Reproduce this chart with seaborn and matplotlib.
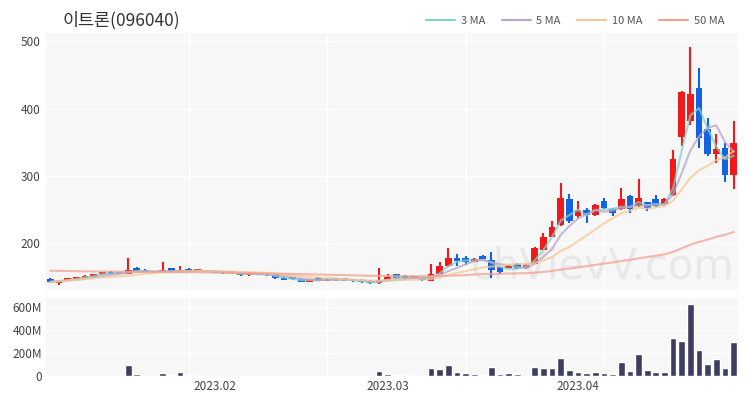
import numpy as np
import pandas as pd
import matplotlib
matplotlib.use("Agg")
import matplotlib.pyplot as plt
from matplotlib.ticker import FuncFormatter
from matplotlib.lines import Line2D
import seaborn as sns

sns.set_theme(style="white")
plt.rcParams['font.family'] = ['Noto Sans CJK KR', 'DejaVu Sans']

title = "이트론(096040)"

# KRX trading days, Jan 3 - Apr 27 2023
holidays = pd.to_datetime(["2023-01-23", "2023-01-24", "2023-03-01"])
dates = pd.bdate_range("2023-01-03", "2023-04-27")
dates = dates[~dates.isin(holidays)]

# prices (won)
opens = [148, 141, 146, 147, 149, 151, 154, 158, 155, 155,
         164, 161, 158, 157, 163, 158, 162, 159, 160, 158,
         157, 156, 156, 153, 155, 154, 154, 149, 148, 148,
         143.5, 149, 145, 147, 146.5, 146, 146, 145, 141, 146,
         154, 152, 149, 148, 145, 155, 166, 179, 179, 173,
         182, 176, 165, 164, 170, 163, 170, 191, 210, 228,
         266, 240, 249, 242, 263, 251, 251, 270, 255, 261,
         266, 258, 272, 358, 382, 431, 369, 333, 342, 301]
highs = [149, 146, 148, 150, 153, 155, 158, 159, 158, 178,
         165, 162, 159, 173, 164, 167, 163, 161, 161, 159,
         158, 157, 157, 157, 156, 155, 155, 150, 149, 149,
         148, 150, 149, 148, 147, 147, 147, 146, 164, 155,
         155, 153, 151, 149, 170, 173, 193, 184, 182, 179,
         183, 188, 167, 168, 171, 169, 195, 215, 233, 290,
         273, 263, 252, 259, 267, 252, 282, 272, 295, 262,
         272, 267, 339, 426, 491, 460, 386, 363, 349, 382]
lows = [141, 138, 145, 146, 148, 150, 153, 154, 154, 154,
        158, 157, 156, 156, 158, 157, 158, 158, 157, 156,
        155, 155, 152, 152, 153, 152, 148, 146, 146, 143,
        143, 144, 144, 145, 145, 143, 142, 140, 140, 145,
        148, 148, 148, 145, 144, 154, 165, 166, 168, 172,
        175, 149, 155, 163, 162, 162, 169, 190, 209, 226,
        230, 238, 230, 240, 251, 240, 250, 245, 254, 248,
        254, 257, 270, 345, 375, 342, 330, 319, 291, 281]
closes = [143, 145, 148, 149, 152, 154, 157, 155, 157, 161,
          159, 158, 157, 160, 159, 160, 159, 160, 158, 157,
          156, 156.5, 153, 156, 154, 153, 149, 146.5, 147, 143.5,
          147, 145, 148, 146, 146, 144, 142.5, 141, 146, 151,
          149, 148.5, 150, 145.5, 155, 166, 178, 174, 173, 177,
          177, 161, 158, 167, 163, 168, 193, 210, 225, 267,
          234, 249, 242, 257, 252, 245, 266, 251, 267, 252,
          255, 266, 325, 424, 421, 357, 333, 340, 301, 349]
# volume in millions of shares
volumes = [4, 3, 3, 4, 3, 4, 3, 3, 4, 97,
           18, 4, 3, 30, 5, 38, 5, 3, 3, 3,
           2, 3, 3, 4, 3, 2, 3, 3, 2, 3,
           3, 2, 3, 2, 2, 3, 3, 4, 44, 20,
           6, 5, 4, 5, 68, 59, 94, 38, 24, 15,
           9, 79, 20, 27, 15, 12, 79, 67, 74, 161,
           53, 38, 27, 32, 27, 20, 126, 44, 191, 50,
           35, 38, 329, 302, 632, 229, 108, 147, 73, 293]
# 50 MA before a full 50-day window is visible
ma50_head = [159.5, 159.3, 159.1, 158.9, 158.7, 158.5, 158.4, 158.3, 158.2, 158.1,
             158.0, 157.9, 157.8, 157.7, 157.6, 157.5, 157.4, 157.2, 157.0, 156.8,
             156.6, 156.4, 156.2, 156.0, 155.8, 155.6, 155.4, 155.1, 154.8, 154.5,
             154.2, 153.9, 153.6, 153.3, 153.0, 152.7, 152.4, 152.1, 151.9, 151.8,
             151.7, 151.6, 151.5, 151.5, 151.6, 151.8, 152.2, 152.6, 153.0]

df = pd.DataFrame({"date": dates, "open": opens, "high": highs, "low": lows,
                   "close": closes, "volume": np.array(volumes) * 1e6})
df["idx"] = np.arange(len(df))
for n in (3, 5, 10):
    df[f"ma{n}"] = df.close.rolling(n, min_periods=1).mean()
df["ma50"] = df.close.rolling(50).mean()
df.loc[:len(ma50_head) - 1, "ma50"] = ma50_head

up = df.close >= df.open
cols = np.where(up, "#f01a1a", "#1463e0")

fig = plt.figure(figsize=(7.5, 4), dpi=100)
ax = fig.add_axes([46 / 750, 110 / 400, 692 / 750, 257 / 400])
axv = fig.add_axes([46 / 750, 24 / 400, 692 / 750, 78 / 400])

for a in (ax, axv):
    a.set_facecolor("#f7f7f7")
    for s in a.spines.values():
        s.set_visible(False)

# watermark
ax.text(0.995, 0.01, "chVievV.com", transform=ax.transAxes, ha="right", va="bottom",
        fontsize=30, color="#dcdcdc", alpha=0.55, zorder=1, family="DejaVu Sans")

# candles
ax.vlines(df.idx, df.low, df.high, colors=cols, lw=1.5, zorder=2)
body = (df.close - df.open).abs().clip(lower=2.6)
ax.bar(df.idx, body, bottom=df[["open", "close"]].min(axis=1), width=0.78,
       color=cols, lw=0, zorder=2)

ma_cols = {"ma3": "#7fd3c9", "ma5": "#b9a5c6", "ma10": "#f5c892", "ma50": "#f4a08e"}
handles = []
for key, c in ma_cols.items():
    sns.lineplot(x=df.idx, y=df[key], ax=ax, color=c, lw=1.5, zorder=3, alpha=0.75)
    handles.append(Line2D([], [], color=c, lw=1.5))
labels = ["3 MA", "5 MA", "10 MA", "50 MA"]

ax.set_xlim(-0.5, len(df) - 0.5)
ax.set_ylim(131, 512)
ax.set_yticks([200, 300, 400, 500])
ax.set_xticks([16, 32, 48, 64])
ax.set_xticklabels([])
ax.set_xlabel("")
ax.set_ylabel("")
ax.grid(True, color="white", lw=1)
ax.set_axisbelow(True)
ax.tick_params(length=0, labelsize=8.5, colors="#444", pad=4)

# volume
sns.barplot(x=df.idx, y=df.volume, ax=axv, color="#3e3e62", width=0.78,
            saturation=1, zorder=2)
axv.set_xlim(-0.5, len(df) - 0.5)
axv.set_ylim(0, 680e6)
axv.set_yticks([0, 200e6, 400e6, 600e6])
axv.yaxis.set_major_formatter(FuncFormatter(lambda v, p: "0" if v == 0 else f"{int(v / 1e6)}M"))
month_first = df.groupby(df.date.dt.month).idx.first()
month_first = month_first[month_first > 0]
axv.set_xticks(month_first.values)
axv.set_xticklabels([d.strftime("%Y.%m") for d in df.date[month_first.values]])
axv.set_xticks([16, 32, 48, 64], minor=True)
axv.set_xlabel("")
axv.set_ylabel("")
axv.grid(True, axis="y", color="white", lw=1)
axv.grid(True, axis="x", which="minor", color="white", lw=1)
axv.set_axisbelow(True)
axv.tick_params(which="both", length=0, labelsize=8.5, colors="#444", pad=3)

fig.text(63 / 750, 1 - 20 / 400, title, fontsize=12.5, va="center", color="#333")
fig.legend(handles, labels, loc="center right", bbox_to_anchor=(734 / 750, 1 - 21 / 400),
           ncol=4, frameon=False, fontsize=8, handlelength=2.6, columnspacing=1.5,
           handletextpad=0.5, labelcolor="#555")

fig.savefig("out.png", dpi=100)
